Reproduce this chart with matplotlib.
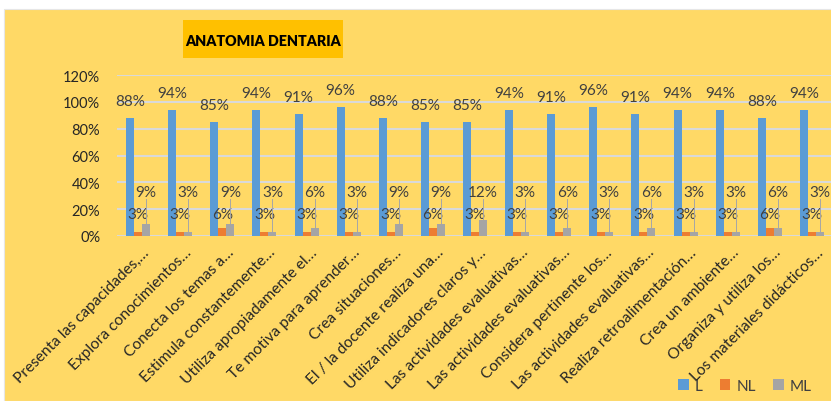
import numpy as np
import matplotlib
matplotlib.use("Agg")
import matplotlib.pyplot as plt
from matplotlib.patches import Rectangle
from matplotlib.transforms import ScaledTranslation

categories = [
    "Presenta las capacidades,…", "Explora conocimientos…", "Conecta los temas a…",
    "Estimula constantemente…", "Utiliza apropiadamente el…", "Te motiva para aprender…",
    "Crea situaciones…", "El / la docente realiza una…", "Utiliza indicadores claros y…",
    "Las actividades evaluativas…", "Las actividades evaluativas…", "Considera pertinente los…",
    "Las actividades evaluativas…", "Realiza retroalimentación…", "Crea un ambiente…",
    "Organiza y utiliza los…", "Los materiales didácticos…",
]
L = [88, 94, 85, 94, 91, 96, 88, 85, 85, 94, 91, 96, 91, 94, 94, 88, 94]
NL = [3, 3, 6, 3, 3, 3, 3, 6, 3, 3, 3, 3, 3, 3, 3, 6, 3]
ML = [9, 3, 9, 3, 6, 3, 9, 9, 12, 3, 6, 3, 6, 3, 3, 6, 3]
yticks = [0, 20, 40, 60, 80, 100, 120]

BG = "#FFD966"
C_L, C_NL, C_ML = "#5B9BD5", "#ED7D31", "#A5A5A5"
TXT = "#404040"

plt.rcParams["font.family"] = ["Lato", "DejaVu Sans"]

fig = plt.figure(figsize=(8.31, 4.02), dpi=100, facecolor="white")
fig.patches.append(Rectangle((4 / 831, 0), 1, (402 - 10) / 402, transform=fig.transFigure,
                             facecolor=BG, edgecolor="#E6E6E6", linewidth=0.8, zorder=-5))

ax = fig.add_axes([117 / 831, (402 - 237) / 402, 716 / 831, 161 / 402])
ax.set_facecolor(BG)
ax.patch.set_alpha(0)

x = np.arange(len(categories))
w = 0.19
ax.bar(x - w, L, w, color=C_L, label="L", zorder=3)
ax.bar(x, NL, w, color=C_NL, label="NL", zorder=3)
ax.bar(x + w, ML, w, color=C_ML, label="ML", zorder=3)

for i in x:
    ax.annotate(f"{L[i]}%", (i - w, L[i]), xytext=(0, 17), textcoords="offset pixels",
                ha="center", va="center", fontsize=11, color=TXT)
    ax.text(i, 16.4, f"{NL[i]}%", ha="center", va="center", fontsize=11, color=TXT, zorder=4)
    ax.text(i + w, 33, f"{ML[i]}%", ha="center", va="center", fontsize=11, color=TXT, zorder=4)
    ax.plot([i + w, i + w], [ML[i], 27.5], color="#A6A6A6", linewidth=0.7, zorder=4)

ax.set_xlim(-0.5, len(categories) - 0.5)
ax.set_ylim(0, 120)
ax.set_yticks(yticks)
ax.set_yticklabels([f"{v}%" for v in yticks], fontsize=10.5, color="#262626")
ax.yaxis.grid(True, color="#D9D9D9", linewidth=1.5, zorder=0)
ax.set_axisbelow(True)
for s in ax.spines.values():
    s.set_visible(False)
ax.tick_params(axis="both", length=0)
ax.tick_params(axis="y", pad=12)

ax.set_xticks(x)
ax.set_xticklabels(categories, rotation=45, ha="right", rotation_mode="anchor",
                   fontsize=11.2, color="#262626")
off = ScaledTranslation(4 / 100, -4 / 100, fig.dpi_scale_trans)
for lab in ax.get_xticklabels():
    lab.set_transform(lab.get_transform() + off)

# title box
fig.patches.append(Rectangle((183 / 831, 1 - 59 / 402), 160 / 831, 38 / 402,
                             transform=fig.transFigure, facecolor="#FFC000",
                             edgecolor="none", zorder=-4))
fig.text(263 / 831, 1 - 41 / 402, "ANATOMIA DENTARIA", ha="center", va="center",
         fontsize=10.3, fontweight="heavy", color="black")

leg = fig.legend(loc="center", bbox_to_anchor=(745 / 831, 1 - 387 / 402), ncol=3, frameon=False,
                 fontsize=11, handlelength=0.7, handleheight=0.7, handletextpad=0.4,
                 columnspacing=1.1)
for t in leg.get_texts():
    t.set_color(TXT)

fig.savefig("out.png", dpi=100, facecolor=fig.get_facecolor())
